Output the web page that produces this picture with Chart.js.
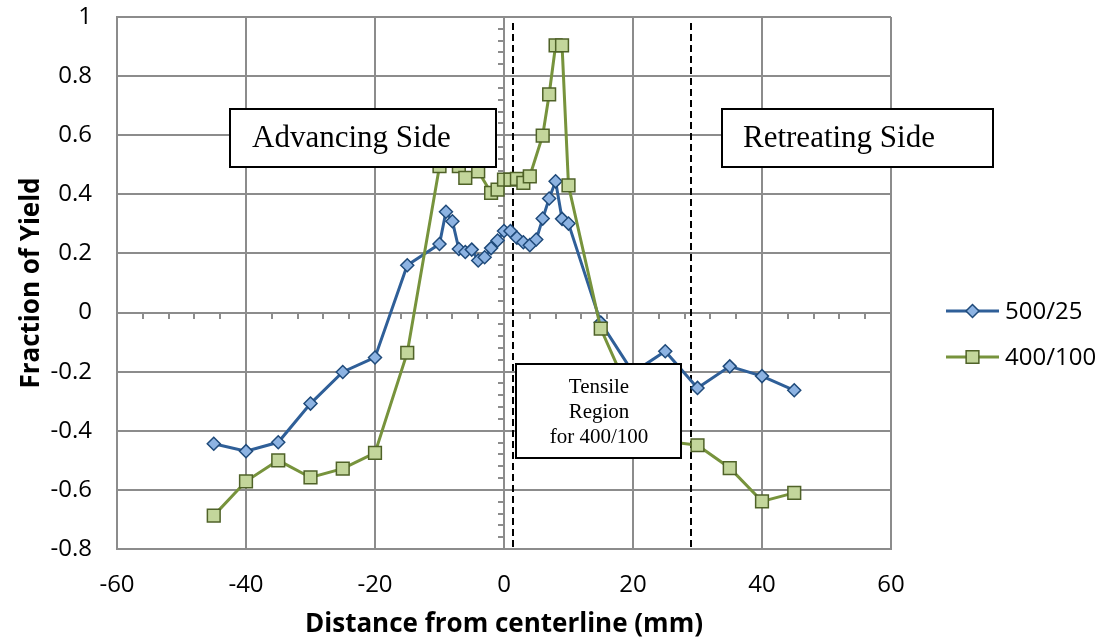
<!DOCTYPE html>
<html><head><meta charset="utf-8">
<script src="https://cdn.jsdelivr.net/npm/chart.js@4.4.1/dist/chart.umd.min.js"></script>
<style>html,body{margin:0;padding:0;background:#fff}</style>
</head><body>
<canvas id="c" width="1099" height="641"></canvas>
<script>
// ---- data ----
const seriesNames = ['500/25', '400/100'];
const xBlue = [-45,-40,-35,-30,-25,-20,-15,-10,-9,-8,-7,-6,-5,-4,-3,-2,-1,0,1,2,3,4,5,6,7,8,9,10,15,20,25,30,35,40,45];
const yBlue = [-0.444,-0.469,-0.439,-0.308,-0.201,-0.152,0.160,0.232,0.341,0.309,0.215,0.205,0.213,0.176,0.187,0.218,0.244,0.276,0.276,0.253,0.238,0.228,0.247,0.318,0.386,0.444,0.317,0.301,-0.034,-0.203,-0.131,-0.255,-0.182,-0.215,-0.263];
const xGreen = [-45,-40,-35,-30,-25,-20,-15,-10,-7,-6,-4,-2,-1,0,1,2,3,4,6,7,8,9,10,15,20,25,30,35,40,45];
const yGreen = [-0.687,-0.571,-0.500,-0.558,-0.528,-0.475,-0.136,0.495,0.495,0.456,0.478,0.405,0.416,0.450,0.450,0.452,0.439,0.461,0.599,0.738,0.904,0.904,0.430,-0.054,-0.300,-0.435,-0.449,-0.526,-0.639,-0.610];
const xTicks = [-60,-40,-20,0,20,40,60];
const yTicks = [-0.8,-0.6,-0.4,-0.2,0,0.2,0.4,0.6,0.8,1];
const dashX = [1.4, 29];
const xTitle = 'Distance from centerline (mm)';
const yTitle = 'Fraction of Yield';
const notes = ['Advancing Side', 'Retreating Side'];
const tensileLines = ['Tensile', 'Region', 'for 400/100'];

// ---- styles ----
const GRID = '#8c8c8c';
const BLUE_LINE = '#2f5f98', BLUE_FILL = '#8db3e2', BLUE_EDGE = '#1f4a7a';
const GREEN_LINE = '#77933c', GREEN_FILL = '#c3d69b', GREEN_EDGE = '#4f6228';
const SANS = "'Open Sans', sans-serif";
const SERIF = "'Liberation Serif', 'DejaVu Serif', serif";

const toPts = (xs, ys) => xs.map((x, i) => ({x, y: ys[i]}));

const deco = {
  id: 'deco',
  beforeDatasetsDraw(chart) {
    const {ctx, chartArea: a, scales: {x, y}} = chart;
    ctx.save();
    ctx.strokeStyle = GRID; ctx.lineWidth = 2;
    const x0 = Math.round(x.getPixelForValue(0));
    const y0 = Math.round(y.getPixelForValue(0));
    ctx.beginPath();
    for (let k = 0; k <= 45; k++) {
      const v = -0.8 + k * 0.04;
      const py = Math.round(y.getPixelForValue(v));
      ctx.moveTo(x0 - 6, py); ctx.lineTo(x0, py);
    }
    for (let k = 0; k <= 30; k++) {
      const v = -60 + k * 4;
      const px = Math.round(x.getPixelForValue(v));
      ctx.moveTo(px, y0); ctx.lineTo(px, y0 + 6);
    }
    ctx.moveTo(a.left, y0); ctx.lineTo(a.right, y0);
    ctx.stroke();
    ctx.strokeStyle = '#000'; ctx.lineWidth = 2; ctx.setLineDash([7, 4]);
    dashX.forEach(v => {
      const px = Math.round(x.getPixelForValue(v));
      ctx.beginPath(); ctx.moveTo(px, a.top + 6); ctx.lineTo(px, a.bottom); ctx.stroke();
    });
    ctx.restore();
  },
  afterDatasetsDraw(chart) {
    const {ctx} = chart;
    ctx.save();
    const box = (l, t, r, b) => {
      ctx.fillStyle = '#fff'; ctx.fillRect(l, t, r - l, b - t);
      ctx.strokeStyle = '#000'; ctx.lineWidth = 2; ctx.strokeRect(l, t, r - l, b - t);
    };
    box(230, 109, 496, 167);
    ctx.fillStyle = '#000'; ctx.font = '31px ' + SERIF; ctx.textBaseline = 'middle'; ctx.textAlign = 'left';
    ctx.fillText(notes[0], 252, 139);
    box(722, 109, 993, 167);
    ctx.fillStyle = '#000';
    ctx.fillText(notes[1], 743, 139);
    box(516, 364, 681, 458);
    ctx.fillStyle = '#000'; ctx.font = '21px ' + SERIF; ctx.textAlign = 'center';
    tensileLines.forEach((s, i) => ctx.fillText(s, 599, 387 + i * 25));

    // legend
    const items = [
      {name: seriesNames[0], line: BLUE_LINE, fill: BLUE_FILL, edge: BLUE_EDGE, shape: 'rectRot', r: 6.5, y: 311},
      {name: seriesNames[1], line: GREEN_LINE, fill: GREEN_FILL, edge: GREEN_EDGE, shape: 'rect', r: 9, y: 357}
    ];
    items.forEach(it => {
      ctx.strokeStyle = it.line; ctx.lineWidth = 3;
      ctx.beginPath(); ctx.moveTo(946, it.y); ctx.lineTo(999, it.y); ctx.stroke();
      ctx.fillStyle = it.fill; ctx.strokeStyle = it.edge; ctx.lineWidth = 1.5;
      Chart.helpers.drawPoint(ctx, {pointStyle: it.shape, rotation: 0, radius: it.r, borderWidth: 1.5}, 972.5, it.y);
      ctx.fillStyle = '#000'; ctx.font = '24px ' + SANS; ctx.textAlign = 'left'; ctx.textBaseline = 'middle';
      ctx.fillText(it.name, 1005, it.y + 1);
    });
    ctx.restore();
  }
};

new Chart(document.getElementById('c'), {
  type: 'line',
  data: {
    datasets: [
      {label: seriesNames[0], data: toPts(xBlue, yBlue), order: 1,
       borderColor: BLUE_LINE, borderWidth: 3, pointStyle: 'rectRot', pointRadius: 6.5,
       pointBackgroundColor: BLUE_FILL, pointBorderColor: BLUE_EDGE, pointBorderWidth: 1.5, tension: 0},
      {label: seriesNames[1], data: toPts(xGreen, yGreen), order: 0,
       borderColor: GREEN_LINE, borderWidth: 3, pointStyle: 'rect', pointRadius: 9,
       pointBackgroundColor: GREEN_FILL, pointBorderColor: GREEN_EDGE, pointBorderWidth: 1.5, tension: 0}
    ]
  },
  options: {
    responsive: false, animation: false, devicePixelRatio: 1,
    layout: {padding: {top: 17, right: 208, left: 0, bottom: 0}},
    plugins: {legend: {display: false}, tooltip: {enabled: false}},
    scales: {
      x: {
        type: 'linear', min: -60, max: 60,
        afterFit: s => { s.height = 92; s.paddingLeft = 0; s.paddingRight = 0; },
        afterBuildTicks: s => { s.ticks = xTicks.map(v => ({value: v})); },
        grid: {color: GRID, lineWidth: 2, drawTicks: false},
        border: {color: GRID, width: 2},
        ticks: {padding: 22, color: '#000', font: {family: SANS, size: 24}, callback: v => String(v)},
        title: {display: true, text: xTitle, color: '#000', font: {family: SANS, size: 26, weight: 'bold'}, padding: {top: 0, bottom: 1}}
      },
      y: {
        type: 'linear', min: -0.8, max: 1,
        afterFit: s => { s.width = 117; s.paddingTop = 0; s.paddingBottom = 0; },
        afterBuildTicks: s => { s.ticks = yTicks.map(v => ({value: v})); },
        grid: {color: GRID, lineWidth: 2, drawTicks: false},
        border: {color: GRID, width: 2},
        ticks: {padding: 25, color: '#000', font: {family: SANS, size: 24}, callback: v => String(Number(v.toFixed(1)))},
        title: {display: true, text: yTitle, color: '#000', font: {family: SANS, size: 26, weight: 'bold'}, padding: {top: 16, bottom: 0}}
      }
    }
  },
  plugins: [deco]
});
</script>
</body></html>
